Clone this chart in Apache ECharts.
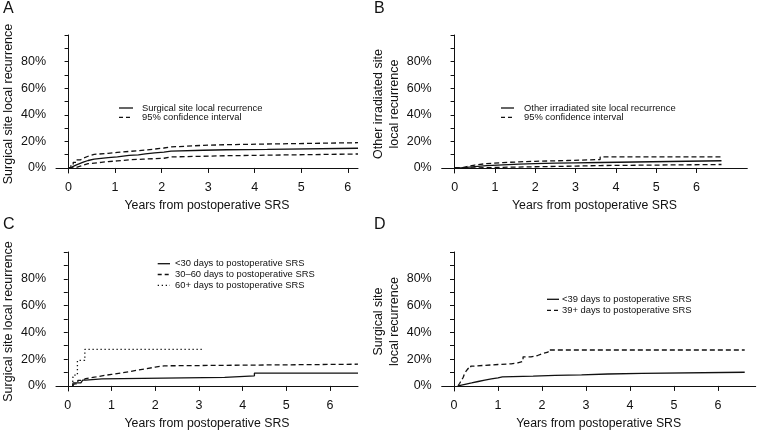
<!DOCTYPE html>
<html><head><meta charset="utf-8">
<script src="https://cdn.jsdelivr.net/npm/echarts@6/dist/echarts.min.js"></script>
<style>html,body{margin:0;padding:0;background:#fff}#c{width:758px;height:432px}</style>
</head><body><div id="c"></div>
<script>
// Data: [years, cumulative incidence %]
const aMain = [[0,0],[0.05,1.2],[0.1,2.3],[0.17,3.4],[0.25,4.5],[0.33,5.6],[0.42,6.6],[0.55,7.2],[0.7,7.8],[0.85,8.4],[1.05,9.4],[1.3,9.9],[1.5,10.6],[1.65,11.3],[1.85,11.9],[2.05,12.6],[2.2,13.3],[2.9,13.7],[3.4,14.0],[4.27,14.8],[6.22,14.8]];
const aUpper = [[0,0],[0.05,2.5],[0.1,4.2],[0.17,6],[0.25,7.5],[0.33,8.8],[0.42,10.2],[0.55,11],[0.85,11.7],[1.05,13],[1.5,14],[1.8,15],[2.05,15.8],[2.2,17],[2.9,17.5],[3.4,18],[4.27,19],[6.22,19]];
const aLower = [[0,0],[0.1,0.5],[0.17,1.3],[0.25,2.2],[0.33,3.2],[0.42,4.2],[0.7,4.8],[0.85,5.3],[1.05,6.1],[1.3,6.6],[1.6,7.3],[2.05,8.3],[2.2,8.8],[2.9,9.2],[3.4,9.6],[4.27,10.5],[6.22,10.5]];

const bMain = [[0,0],[0.15,0.4],[0.3,1.0],[0.5,1.7],[0.8,2.3],[1.2,2.9],[1.6,3.2],[2.0,3.6],[2.5,3.8],[3.0,4.1],[3.61,5.4],[6.62,5.4]];
const bUpper = [[0,0],[0.15,1.0],[0.3,2.2],[0.5,3.3],[0.8,4.0],[1.2,4.6],[1.6,5.0],[2.0,5.6],[2.8,6.3],[3.61,8.3],[6.62,8.3]];
const bLower = [[0,0],[0.5,0.2],[0.8,0.5],[1.2,0.9],[2.0,1.4],[3.0,1.8],[3.61,2.6],[6.62,2.6]];

const cUnder30 = [[0.11,0],[0.12,2.2],[0.3,3.3],[0.34,4.3],[0.41,5.3],[0.78,6.3],[3.59,7.5],[4.27,9.6],[6.64,9.6]];
const c30to60 = [[0.11,0],[0.15,1.5],[0.23,4.2],[0.33,5.5],[0.41,6.7],[0.64,7.9],[0.85,8.6],[1.0,9.5],[1.2,10.6],[1.4,11.8],[1.6,12.9],[1.8,14.0],[2.0,15.0],[2.2,16.2],[6.64,16.2]];
const cOver60 = [[0.11,0],[0.12,8],[0.22,19],[0.39,27.3],[3.12,27.3]];

const dUnder39 = [[0.09,0],[0.11,1.2],[0.25,2.2],[0.4,3.3],[0.55,4.3],[0.7,5.2],[0.85,6],[1.0,6.7],[1.1,7.3],[1.8,7.8],[2.3,8.3],[2.9,8.9],[3.5,9.3],[4.27,10.2],[6.61,10.2]];
const dOver39 = [[0.09,0],[0.13,2],[0.17,4.2],[0.21,6.5],[0.24,9.2],[0.28,11.3],[0.32,13],[0.38,14.8],[0.45,16],[1.0,16.5],[1.3,17.2],[1.45,18.3],[1.57,21.7],[1.75,22.7],[1.9,24],[2.0,25.3],[2.14,26.8],[6.61,26.8]];

const xTicks = [0,1,2,3,4,5,6];
const yTicks = [0,10,20,30,40,50,60,70,80,90,100];
const yLabels = [0,20,40,60,80];
const xTitle = 'Years from postoperative SRS';

const FONT = 'Liberation Sans, Arial, Helvetica, sans-serif';
const INK = '#111';
const panels = [
  {grid:{left:53, top:35, width:305, height:138}, xr:[-0.27,6.22], yTitle:'Surgical site local recurrence',
   series:[{d:aMain,t:'solid'},{d:aUpper,t:[5,3]},{d:aLower,t:[5,3]}]},
  {grid:{left:441.7, top:35, width:305.6, height:138}, xr:[-0.32,7.26], yTitle:'Other irradiated site\nlocal recurrence',
   series:[{d:bMain,t:'solid'},{d:bUpper,t:[5,3]},{d:bLower,t:[5,3]}]},
  {grid:{left:53, top:252, width:305, height:139}, xr:[-0.27,6.64], yTitle:'Surgical site local recurrence',
   series:[{d:cUnder30,t:'solid'},{d:c30to60,t:[5,3]},{d:cOver60,t:[1.3,2.7]}]},
  {grid:{left:441.7, top:252, width:314, height:139}, xr:[-0.28,6.86], yTitle:'Surgical site\nlocal recurrence',
   series:[{d:dUnder39,t:'solid'},{d:dOver39,t:[5,3]}]}
];

const grid=[], xAxis=[], yAxis=[], series=[];
panels.forEach((p,i)=>{
  grid.push(p.grid);
  xAxis.push({type:'value', gridIndex:i, min:p.xr[0], max:p.xr[1],
    axisLine:{show:true, lineStyle:{color:INK, width:1}},
    axisTick:{show:true, length:5, lineStyle:{color:INK}, customValues:xTicks},
    axisLabel:{customValues:xTicks, color:INK, fontSize:12.5, fontFamily:FONT, margin:8},
    splitLine:{show:false},
    name:xTitle, nameLocation:'middle', nameGap:27, nameTextStyle:{color:INK, fontSize:12.3, fontFamily:FONT}});
  yAxis.push({type:'value', gridIndex:i, min:-3.8, max:100,
    axisLine:{show:true, lineStyle:{color:INK, width:1}},
    axisTick:{show:true, length:4, lineStyle:{color:INK}, customValues:yTicks},
    axisLabel:{customValues:yLabels, color:INK, fontSize:12.5, fontFamily:FONT, margin:10, formatter:v=>v+'%'},
    splitLine:{show:false},
    name:p.yTitle, nameLocation:'middle', nameGap:39, nameTextStyle:{color:INK, fontSize:12.5, fontFamily:FONT, lineHeight:16}});
  p.series.forEach(s=>{
    series.push({type:'line', xAxisIndex:i, yAxisIndex:i, data:s.d, step:'end', symbol:'none', clip:true,
      lineStyle:{color:INK, width:1.3, type:s.t}});
  });
});

function legend(x, y0, dy, lx1, lx2, items){
  const els=[];
  items.forEach((it,k)=>{
    const y=y0+k*dy;
    els.push({type:'line', shape:{x1:lx1,y1:y,x2:lx2,y2:y}, style:{stroke:INK, lineWidth:1.3, lineDash:it.dash}});
    els.push({type:'text', x:x, y:y, style:{text:it.text, fill:INK, font:'9.4px '+FONT, verticalAlign:'middle', align:'left'}});
  });
  return els;
}
const graphic = [
  {type:'text', x:3, y:1, style:{text:'A', fill:INK, font:'16px '+FONT}},
  {type:'text', x:374, y:1, style:{text:'B', fill:INK, font:'16px '+FONT}},
  {type:'text', x:3, y:217, style:{text:'C', fill:INK, font:'16px '+FONT}},
  {type:'text', x:374, y:217, style:{text:'D', fill:INK, font:'16px '+FONT}},
  ...legend(142,108,9.4,119,133,[{text:'Surgical site local recurrence',dash:null},{text:'95% confidence interval',dash:[4,3]}]),
  ...legend(524,108,9.4,501,514,[{text:'Other irradiated site local recurrence',dash:null},{text:'95% confidence interval',dash:[4,3]}]),
  ...legend(175,263.7,10.8,157.7,170,[{text:'<30 days to postoperative SRS',dash:null},{text:'30–60 days to postoperative SRS',dash:[4,3]},{text:'60+ days to postoperative SRS',dash:[1.3,2.7]}]),
  ...legend(562,299.3,11,547,559,[{text:'<39 days to postoperative SRS',dash:null},{text:'39+ days to postoperative SRS',dash:[4,3]}])
];

const chart = echarts.init(document.getElementById('c'), null, {renderer:'canvas'});
chart.setOption({animation:false, backgroundColor:'#fff', grid, xAxis, yAxis, series, graphic});
</script></body></html>
